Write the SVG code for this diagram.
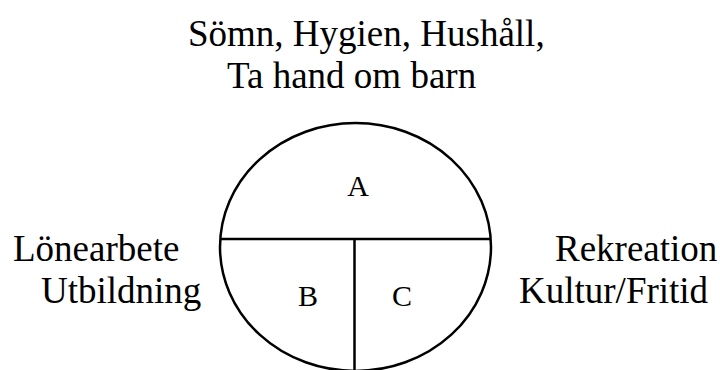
<svg xmlns="http://www.w3.org/2000/svg" width="720" height="370" viewBox="0 0 720 370">
<style>
.t{font-size:37px;fill:#000}
.l{font-size:30px;fill:#000;text-anchor:middle}
.s{fill:none;stroke:#000;stroke-width:2.5}
</style>
<rect width="720" height="370" fill="#fff"/>
<g font-family="Liberation Serif, Times New Roman, serif">
<g id="top-label">
<text class="t" x="188" y="46">Sömn, Hygien, Hushåll,</text>
<text class="t" x="227" y="88">Ta hand om barn</text>
</g>
<g id="left-label">
<text class="t" x="13" y="261">Lönearbete</text>
<text class="t" x="41" y="303">Utbildning</text>
</g>
<g id="right-label">
<text class="t" x="555" y="261">Rekreation</text>
<text class="t" x="519" y="303">Kultur/Fritid</text>
</g>
<g id="A"><text class="l" x="358" y="196">A</text></g>
<g id="B"><text class="l" x="308" y="306">B</text></g>
<g id="C"><text class="l" x="402" y="306">C</text></g>
</g>
<g id="circle">
<ellipse class="s" cx="355.5" cy="247" rx="135.5" ry="124"/>
</g>
<g id="connectors">
<line class="s" x1="220" y1="239" x2="491" y2="239"/>
<line class="s" x1="354.5" y1="239" x2="354.5" y2="370"/>
</g>
</svg>
